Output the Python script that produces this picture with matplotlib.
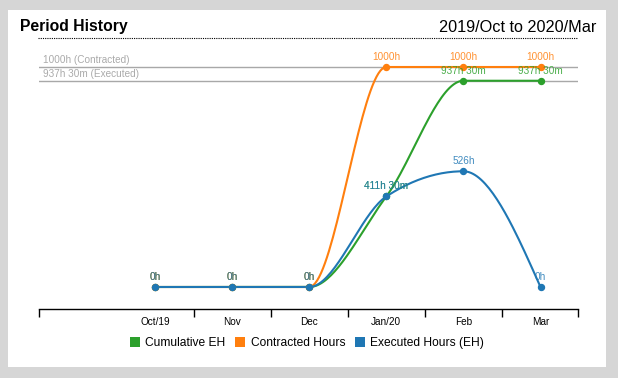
import matplotlib
matplotlib.use("Agg")
import matplotlib.pyplot as plt
from matplotlib.lines import Line2D
from matplotlib.patches import Patch, Rectangle
import matplotlib.transforms as mtransforms
import numpy as np

plt.rcParams['font.family'] = ['Liberation Sans', 'DejaVu Sans']

months = ["Oct/19", "Nov", "Dec", "Jan/20", "Feb", "Mar"]
cumulative_eh = [0, 0, 0, 411.5, 937.5, 937.5]
contracted = [0, 0, 0, 1000, 1000, 1000]
executed = [0, 0, 0, 411.5, 526, 0]
cumulative_labels = ["0h", "0h", "0h", "411h 30m", "937h 30m", "937h 30m"]
contracted_labels = ["0h", "0h", "0h", "1000h", "1000h", "1000h"]
executed_labels = ["0h", "0h", "0h", "411h 30m", "526h", "0h"]
contracted_total = 1000
executed_total = 937.5

GREEN, ORANGE, BLUE = "#2ca02c", "#ff7f0e", "#1f77b4"
W, H = 618, 378


def monotone_x(x, y, n=40):
    # d3 curveMonotoneX style interpolation
    x = np.asarray(x, float)
    y = np.asarray(y, float)
    h = np.diff(x)
    s = np.diff(y) / h
    t = np.zeros(len(x))
    for i in range(1, len(x) - 1):
        s0, s1 = s[i - 1], s[i]
        p = (s0 * h[i] + s1 * h[i - 1]) / (h[i - 1] + h[i])
        t[i] = (np.sign(s0) + np.sign(s1)) * min(abs(s0), abs(s1), 0.5 * abs(p))
    t[0] = (3 * s[0] - t[1]) / 2
    t[-1] = (3 * s[-1] - t[-2]) / 2
    xs, ys = [], []
    for i in range(len(x) - 1):
        u = np.linspace(0, 1, n)
        dx = h[i]
        p0, p3 = np.array([x[i], y[i]]), np.array([x[i + 1], y[i + 1]])
        p1 = np.array([x[i] + dx / 3, y[i] + dx * t[i] / 3])
        p2 = np.array([x[i + 1] - dx / 3, y[i + 1] - dx * t[i + 1] / 3])
        pts = ((1 - u) ** 3)[:, None] * p0 + (3 * (1 - u) ** 2 * u)[:, None] * p1 \
            + (3 * (1 - u) * u ** 2)[:, None] * p2 + (u ** 3)[:, None] * p3
        xs.extend(pts[:, 0])
        ys.extend(pts[:, 1])
    return np.array(xs), np.array(ys)


fig = plt.figure(figsize=(W / 100, H / 100), dpi=100)
fig.patch.set_facecolor("#d6d6d6")
fig.add_artist(Rectangle((8 / W, 1 - 367 / H), 598 / W, 357 / H,
                         transform=fig.transFigure, facecolor="white", edgecolor="none", zorder=0))

# header
fig.text(20 / W, 1 - 27 / H, "Period History", fontsize=11.3, fontweight="bold", va="center", ha="left")
fig.text(596 / W, 1 - 27 / H, "2019/Oct to 2020/Mar", fontsize=11.7, va="center", ha="right")
fig.add_artist(Line2D([38 / W, 578 / W], [1 - 38 / H, 1 - 38 / H], transform=fig.transFigure,
                      color="black", lw=0.8, ls=(0, (1, 1))))

# axes: x from 39px to 578px, bottom at 309px, top at 40px
ax = fig.add_axes([39 / W, 1 - 309 / H, 539 / W, 269 / H])
ax.set_facecolor("none")
x = np.arange(len(months))
step = 77.1
ax.set_xlim((39 - 155) / step, (578 - 155) / step)
ax.set_ylim(-(309 - 287) / 0.22, (287 - 40) / 0.22)

for spine in ["top", "left", "right"]:
    ax.spines[spine].set_visible(False)
ax.spines["bottom"].set_linewidth(1)
ax.set_yticks([])
ax.set_xticks(x)
ax.set_xticklabels(months, fontsize=7.2)
xl = ax.get_xlim()
ax.set_xticks(list(x[:-1] + 0.5) + [xl[0] + 0.005, xl[1] - 0.005], minor=True)
ax.tick_params(axis="x", which="major", length=0, pad=6)
ax.tick_params(axis="x", which="minor", length=6, width=1, color="black")

# reference lines
for val, lab in [(contracted_total, "1000h (Contracted)"), (executed_total, "937h 30m (Executed)")]:
    ax.axhline(val, color="#a8a8a8", lw=1, zorder=1)
    ax.annotate(lab, xy=(4 / 539, val), xycoords=mtransforms.blended_transform_factory(ax.transAxes, ax.transData),
                xytext=(0, 2), textcoords="offset pixels", fontsize=7.2, color="#aaaaaa", va="bottom", ha="left")

for vals, labels, color in [(cumulative_eh, cumulative_labels, GREEN),
                            (contracted, contracted_labels, ORANGE),
                            (executed, executed_labels, BLUE)]:
    sx, sy = monotone_x(x, vals)
    ax.plot(sx, sy, color=color, lw=1.5, zorder=3)
    ax.plot(x, vals, "o", color=color, markersize=4.3, zorder=4)
    for xi, v, lab in zip(x, vals, labels):
        ax.annotate(lab, (xi, v), xytext=(0, 5), textcoords="offset pixels", ha="center", va="bottom",
                    fontsize=7.2, color=color, alpha=0.85, zorder=5)

handles = [Patch(facecolor=GREEN, label="Cumulative EH"),
           Patch(facecolor=ORANGE, label="Contracted Hours"),
           Patch(facecolor=BLUE, label="Executed Hours (EH)")]
fig.legend(handles=handles, loc="center", bbox_to_anchor=(307 / W, 1 - 343 / H), ncol=3, frameon=False,
           fontsize=8.64, handlelength=0.85, handleheight=0.85, handletextpad=0.45, columnspacing=0.8,
           borderpad=0, borderaxespad=0)

fig.savefig("out.png", dpi=100)
